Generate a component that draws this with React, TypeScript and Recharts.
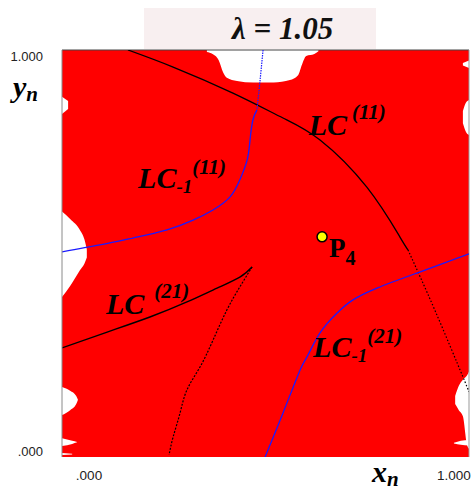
import React from 'react';
import { ComposedChart, XAxis, YAxis, CartesianGrid, Area, Line, Scatter, ReferenceLine } from 'recharts';

// critical curves in (x_n, y_n)
const lc11Solid = [
  { x: 0.162, y: 1.0 }, { x: 0.273, y: 0.958 }, { x: 0.42, y: 0.894 }, { x: 0.543, y: 0.833 },
  { x: 0.634, y: 0.779 }, { x: 0.749, y: 0.663 }, { x: 0.83, y: 0.541 }, { x: 0.85, y: 0.509 },
];
const lc11Dotted = [
  { x: 0.85, y: 0.509 }, { x: 0.916, y: 0.361 }, { x: 0.985, y: 0.197 }, { x: 1.0, y: 0.16 },
];
const lcm11Dotted = [{ x: 0.494, y: 1.0 }, { x: 0.486, y: 0.919 }, { x: 0.479, y: 0.853 }];
const lcm11Solid = [
  { x: 0.479, y: 0.853 }, { x: 0.469, y: 0.828 }, { x: 0.462, y: 0.779 }, { x: 0.455, y: 0.73 },
  { x: 0.437, y: 0.681 }, { x: 0.413, y: 0.639 }, { x: 0.371, y: 0.607 }, { x: 0.322, y: 0.582 },
  { x: 0.258, y: 0.558 }, { x: 0.174, y: 0.538 }, { x: 0.093, y: 0.521 }, { x: 0, y: 0.504 },
];
const lc21Upper = [
  { x: 0, y: 0.268 }, { x: 0.111, y: 0.307 }, { x: 0.216, y: 0.344 }, { x: 0.307, y: 0.381 },
  { x: 0.381, y: 0.415 }, { x: 0.437, y: 0.442 }, { x: 0.467, y: 0.467 },
];
const lc21Lower = [
  { x: 0.467, y: 0.467 }, { x: 0.437, y: 0.418 }, { x: 0.405, y: 0.361 }, { x: 0.371, y: 0.287 },
  { x: 0.339, y: 0.221 }, { x: 0.307, y: 0.165 }, { x: 0.29, y: 0.108 }, { x: 0.273, y: 0.049 },
  { x: 0.263, y: 0.005 },
];
const lcm21 = [
  { x: 0.499, y: 0 }, { x: 0.543, y: 0.108 }, { x: 0.585, y: 0.214 }, { x: 0.602, y: 0.246 },
  { x: 0.634, y: 0.305 }, { x: 0.676, y: 0.354 }, { x: 0.715, y: 0.386 }, { x: 0.774, y: 0.415 },
  { x: 0.872, y: 0.452 }, { x: 1.0, y: 0.499 },
];

// white holes (outside the red basin), as [low, high] y ranges over x
const holeTop = [
  { x: 0.356, r: [0.995, 1] }, { x: 0.37, r: [0.99, 1] }, { x: 0.385, r: [0.975, 1] },
  { x: 0.396, r: [0.945, 1] }, { x: 0.405, r: [0.932, 1] }, { x: 0.43, r: [0.924, 1] },
  { x: 0.47, r: [0.92, 1] }, { x: 0.52, r: [0.92, 1] }, { x: 0.56, r: [0.926, 1] },
  { x: 0.58, r: [0.938, 1] }, { x: 0.59, r: [0.965, 1] }, { x: 0.6, r: [0.985, 1] },
  { x: 0.62, r: [0.99, 1] }, { x: 0.63, r: [0.997, 1] },
];
const holeLeftMid = [
  { x: 0, r: [0.393, 0.603] }, { x: 0.02, r: [0.42, 0.585] }, { x: 0.044, r: [0.459, 0.558] },
  { x: 0.055, r: [0.475, 0.535] }, { x: 0.061, r: [0.49, 0.51] },
];
const holeLeftHigh = [{ x: 0, r: [0.843, 0.885] }, { x: 0.015, r: [0.855, 0.875] }];
const holeLeftLow = [
  { x: 0, r: [0.103, 0.172] }, { x: 0.02, r: [0.115, 0.163] }, { x: 0.035, r: [0.13, 0.15] },
  { x: 0.039, r: [0.14, 0.141] },
];
const holeLeftFlare = [{ x: 0, r: [0.027, 0.046] }, { x: 0.025, r: [0.032, 0.04] }, { x: 0.037, r: [0.036, 0.037] }];
const holeLeftTiny = [{ x: 0, r: [0.005, 0.01] }, { x: 0.025, r: [0.006, 0.008] }];
const holeRightTop = [{ x: 0.985, r: [0.962, 0.968] }, { x: 1, r: [0.956, 0.974] }];
const holeRightHigh = [{ x: 0.985, r: [0.82, 0.85] }, { x: 0.992, r: [0.8, 0.87] }, { x: 1, r: [0.791, 0.877] }];
const holeRightLow = [
  { x: 0.966, r: [0.13, 0.15] }, { x: 0.975, r: [0.115, 0.175] }, { x: 0.985, r: [0.1, 0.19] },
  { x: 0.995, r: [0.03, 0.2] }, { x: 1, r: [0.02, 0.21] },
];
const holeRightFlare = [{ x: 0.963, r: [0.033, 0.035] }, { x: 0.98, r: [0.03, 0.04] }, { x: 1, r: [0.028, 0.042] }];
const holes = [holeTop, holeLeftMid, holeLeftHigh, holeLeftLow, holeLeftFlare, holeLeftTiny,
  holeRightTop, holeRightHigh, holeRightLow, holeRightFlare];

const fixedPoint = [{ x: 0.639, y: 0.541 }];

// curve labels: main text, subscript, superscript
const labels = [
  { x: 0.606, y: 0.791, main: 'LC', sub: '', sup: '(11)', gap: 5 },
  { x: 0.187, y: 0.661, main: 'LC', sub: '-1', sup: '(11)', gap: 0 },
  { x: 0.108, y: 0.351, main: 'LC', sub: '', sup: '(21)', gap: 10 },
  { x: 0.617, y: 0.246, main: 'LC', sub: '-1', sup: '(21)', gap: 0 },
];
const pointLabel = [{ x: 0.656, y: 0.491 }];

const SERIF = '"Liberation Serif", "Times New Roman", serif';
const SANS = '"Liberation Sans", Arial, sans-serif';

const CurveLabel = (props: any) => {
  const { cx, cy, payload } = props;
  return (
    <text x={cx} y={cy} fontFamily={SERIF} fontWeight="bold" fontStyle="italic" fontSize={30} fill="#000">
      {payload.main}
      {payload.sub ? <tspan fontSize={19} dy={5}>{payload.sub}</tspan> : null}
      <tspan fontSize={21} dx={payload.gap} dy={payload.sub ? -19 : -16}>{payload.sup}</tspan>
    </text>
  );
};

const PLabel = (props: any) => (
  <text x={props.cx} y={props.cy} fontFamily={SERIF} fontWeight="bold" fontSize={27} fill="#000">
    P<tspan fontSize={20} dy={8}>4</tspan>
  </text>
);

const Dot = (props: any) => (
  <circle cx={props.cx} cy={props.cy} r={5} fill="#ffff00" stroke="#000" strokeWidth={1.5} />
);

const YTick = (props: any) => {
  const { y, payload } = props;
  return (
    <text x={43} y={payload.value === 1 ? y + 11 : y - 1} textAnchor="end" fontFamily={SANS} fontSize={13} fill="#222">
      {payload.value === 1 ? '1.000' : '.000'}
    </text>
  );
};

const XTick = (props: any) => {
  const { x, payload } = props;
  return (
    <text x={payload.value === 1 ? x - 15 : x + 27} y={480} textAnchor="middle" fontFamily={SANS} fontSize={13.5} fill="#222">
      {payload.value === 1 ? '1.000' : '.000'}
    </text>
  );
};

const AxisName = ({ x, y, name }: { x: number; y: number; name: string }) => (
  <text x={x} y={y} fontFamily={SERIF} fontWeight="bold" fontStyle="italic" fontSize={30} fill="#000">
    {name}
    <tspan fontSize={21} dy={4}>n</tspan>
  </text>
);

export default function App() {
  return (
    <div style={{ position: 'absolute', left: 0, top: 0, width: 474, height: 491, background: '#fff' }}>
      <div
        style={{
          position: 'absolute', left: 144, top: 8, width: 232, height: 41, background: '#f8eff0',
          fontFamily: SERIF, fontWeight: 'bold', fontStyle: 'italic', fontSize: 31, lineHeight: '41px',
          paddingLeft: 88, boxSizing: 'border-box', color: '#111', whiteSpace: 'nowrap',
        }}
      >
        λ = 1.05
      </div>
      <ComposedChart width={474} height={491} margin={{ top: 50, right: 5, left: 0, bottom: 0 }}>
        <CartesianGrid horizontal={false} vertical={false} fill="#ff0000" fillOpacity={1} />
        <XAxis
          type="number" dataKey="x" domain={[0, 1]} ticks={[0, 1]} allowDataOverflow height={34}
          axisLine={false} tickLine={false} tick={XTick}
          label={{ content: (p: any) => <AxisName x={p.viewBox.x + 310} y={p.viewBox.y + 25} name="x" /> }}
        />
        <YAxis
          type="number" dataKey="y" domain={[0, 1]} ticks={[0, 1]} allowDataOverflow width={62}
          axisLine={{ stroke: '#8a8a8a' }} tickLine={false} tick={YTick}
          label={{ content: (p: any) => <AxisName x={13} y={p.viewBox.y + 47} name="y" /> }}
        />
        {holes.map((h, i) => (
          <Area
            key={`hole-${i}`} data={h} dataKey="r" type="monotone" fill="#ffffff" fillOpacity={1}
            stroke="none" isAnimationActive={false} activeDot={false}
          />
        ))}
        <ReferenceLine y={1} stroke="#444" />
        <ReferenceLine x={1} stroke="#999" />
        <Line data={lc11Solid} dataKey="y" type="natural" stroke="#000" strokeWidth={1.3} dot={false} isAnimationActive={false} />
        <Line data={lc11Dotted} dataKey="y" type="natural" stroke="#000" strokeWidth={1.2} strokeDasharray="1.5 2" dot={false} isAnimationActive={false} />
        <Line data={lcm11Dotted} dataKey="y" type="natural" stroke="#1a1aff" strokeWidth={1.2} strokeDasharray="1.5 1" dot={false} isAnimationActive={false} />
        <Line data={lcm11Solid} dataKey="y" type="natural" stroke="#1a1aff" strokeWidth={1.3} dot={false} isAnimationActive={false} />
        <Line data={lc21Upper} dataKey="y" type="natural" stroke="#000" strokeWidth={1.4} dot={false} isAnimationActive={false} />
        <Line data={lc21Lower} dataKey="y" type="natural" stroke="#000" strokeWidth={1.2} strokeDasharray="2 1.5" dot={false} isAnimationActive={false} />
        <Line data={lcm21} dataKey="y" type="natural" stroke="#1a1aff" strokeWidth={1.3} dot={false} isAnimationActive={false} />
        <Scatter data={fixedPoint} dataKey="y" shape={Dot} isAnimationActive={false} />
        <Scatter data={labels} dataKey="y" shape={CurveLabel} isAnimationActive={false} />
        <Scatter data={pointLabel} dataKey="y" shape={PLabel} isAnimationActive={false} />
      </ComposedChart>
    </div>
  );
}
